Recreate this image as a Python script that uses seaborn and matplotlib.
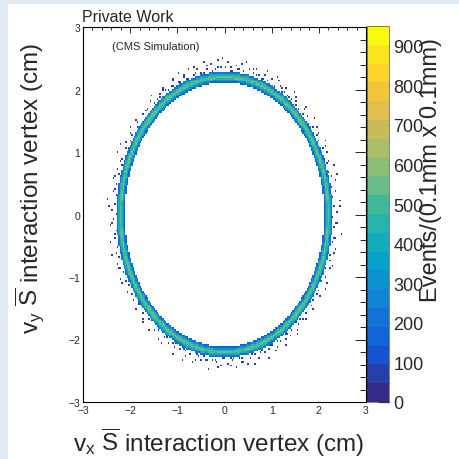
import numpy as np
import pandas as pd
import matplotlib
matplotlib.use("Agg")
import matplotlib.pyplot as plt
from matplotlib.colors import LinearSegmentedColormap, ListedColormap
from matplotlib.patches import Rectangle
from matplotlib.ticker import MultipleLocator
import seaborn as sns

# ROOT kBird palette
bird_stops = [0.0, 0.125, 0.25, 0.375, 0.5, 0.625, 0.75, 0.875, 1.0]
bird_red = [0.2082, 0.0592, 0.0780, 0.0232, 0.1802, 0.5301, 0.8186, 0.9956, 0.9764]
bird_green = [0.1664, 0.3599, 0.5041, 0.6419, 0.7178, 0.7492, 0.7328, 0.7862, 0.9832]
bird_blue = [0.5293, 0.8684, 0.8385, 0.7914, 0.6425, 0.4662, 0.3499, 0.1968, 0.0539]
n_levels = 20
z_max = 950
cbar_ticks = [0, 100, 200, 300, 400, 500, 600, 700, 800, 900]

# ring: radial profile of counts per bin (cm)
ring_edges = [2.11, 2.135, 2.16, 2.185, 2.21, 2.235, 2.26, 2.29]
ring_counts = [170, 330, 470, 560, 520, 400, 230]

# scattered vertices outside the ring (angle in deg, radius in cm)
right_ang = [-38, -36, -33, -31, -29, -27, -25, -22, -20, -18, -16, -13, -11, -9, -7, -5, -3, -1,
             1, 3, 5, 7, 9, 11, 13, 15, 17, 19, 21, 23, 25, 27, 29, 31, 33, 35, 37, 39]
right_rad = [2.34, 2.31, 2.40, 2.33, 2.46, 2.32, 2.38, 2.30, 2.43, 2.35, 2.31, 2.41, 2.33, 2.37, 2.49, 2.32, 2.36, 2.30,
             2.40, 2.34, 2.45, 2.32, 2.38, 2.31, 2.42, 2.35, 2.32, 2.47, 2.36, 2.30, 2.39, 2.33, 2.44, 2.32, 2.37, 2.41, 2.34, 2.31]
top_ang = [42, 45, 47, 50, 52, 53, 55, 57, 58, 60, 62, 63, 65, 67, 68, 70, 72, 74, 75, 77,
           79, 80, 82, 84, 86, 88, 90, 91, 93, 95, 97, 99, 100, 102, 104, 106, 108, 110, 111, 113,
           115, 117, 119, 121, 123, 125, 128, 131, 134, 137,
           44, 49, 54, 59, 64, 69, 73, 78, 83, 87, 92, 96, 101, 105, 109, 114, 118, 122, 126, 130]
top_rad = [2.35, 2.42, 2.31, 2.38, 2.33, 2.46, 2.34, 2.40, 2.31, 2.37, 2.44, 2.32, 2.39, 2.34, 2.48, 2.31, 2.36, 2.42, 2.33, 2.39,
           2.50, 2.32, 2.35, 2.41, 2.31, 2.45, 2.34, 2.52, 2.37, 2.32, 2.43, 2.35, 2.48, 2.31, 2.39, 2.34, 2.44, 2.32, 2.38, 2.46,
           2.33, 2.40, 2.35, 2.31, 2.42, 2.36, 2.33, 2.39, 2.34, 2.37,
           2.30, 2.33, 2.31, 2.35, 2.30, 2.32, 2.34, 2.30, 2.33, 2.31, 2.36, 2.30, 2.32, 2.34, 2.31, 2.30, 2.33, 2.35, 2.31, 2.32]
left_ang = [141, 143, 145, 147, 149, 151, 153, 156, 158, 160, 162, 164, 166, 168, 170, 172, 174, 176, 178, 180,
            182, 184, 186, 188, 190, 193, 195, 197, 199, 201, 203, 205, 207, 209, 211, 213, 215, 218]
left_rad = [2.37, 2.32, 2.43, 2.34, 2.31, 2.40, 2.33, 2.47, 2.35, 2.32, 2.39, 2.31, 2.44, 2.34, 2.37, 2.32, 2.50, 2.33, 2.40, 2.31,
            2.36, 2.42, 2.32, 2.34, 2.46, 2.31, 2.38, 2.33, 2.41, 2.35, 2.32, 2.44, 2.34, 2.31, 2.39, 2.33, 2.37, 2.32]
bottom_ang = [222, 224, 226, 229, 231, 233, 235, 237, 240, 242, 244, 246, 248, 250, 252, 254, 256, 258, 260, 262,
              264, 266, 268, 270, 272, 274, 276, 278, 280, 282, 284, 286, 288, 290, 292, 294, 296, 298, 300, 302,
              304, 306, 308, 310, 312, 314, 316, 318, 247, 273,
              228, 238, 243, 249, 255, 259, 265, 269, 275, 279, 285, 289, 295, 299, 305, 311]
bottom_rad = [2.34, 2.40, 2.32, 2.45, 2.36, 2.31, 2.42, 2.34, 2.38, 2.33, 2.48, 2.35, 2.31, 2.41, 2.34, 2.46, 2.32, 2.39, 2.35, 2.50,
              2.33, 2.37, 2.43, 2.31, 2.40, 2.34, 2.47, 2.32, 2.38, 2.44, 2.35, 2.31, 2.41, 2.33, 2.49, 2.36, 2.32, 2.40, 2.34, 2.45,
              2.31, 2.38, 2.33, 2.42, 2.35, 2.32, 2.39, 2.34, 2.30, 2.30,
              2.30, 2.32, 2.30, 2.33, 2.31, 2.30, 2.34, 2.31, 2.30, 2.32, 2.31, 2.33, 2.30, 2.31, 2.32, 2.30]
extra_ang = [3, 9, 15, 21, 27, 33, 39, 45, 51, 57, 63, 69, 75, 81, 87, 93, 99, 105, 111, 117,
             123, 129, 135, 141, 147, 153, 159, 165, 171, 177, 183, 189, 195, 201, 207, 213, 219, 225, 231, 237,
             243, 249, 255, 261, 267, 273, 279, 285, 291, 297, 303, 309, 315, 321, 327, 333, 339, 345, 351, 357]
extra_rad = [2.44, 2.37, 2.47, 2.33, 2.41, 2.36, 2.45, 2.39, 2.43, 2.35, 2.48, 2.38, 2.42, 2.46, 2.36, 2.49, 2.40, 2.44, 2.37, 2.43,
             2.39, 2.45, 2.34, 2.41, 2.38, 2.46, 2.35, 2.42, 2.37, 2.44, 2.40, 2.36, 2.47, 2.39, 2.43, 2.35, 2.41, 2.46, 2.38, 2.44,
             2.37, 2.48, 2.40, 2.36, 2.45, 2.42, 2.38, 2.47, 2.35, 2.43, 2.39, 2.46, 2.37, 2.41, 2.34, 2.44, 2.38, 2.42, 2.36, 2.40]
outlier_count = 60

# build the histogram entries (cell centres of a 200 x 200 grid)
n_bins = 200
centers = np.linspace(-3 + 3 / n_bins, 3 - 3 / n_bins, n_bins)
gx, gy = np.meshgrid(centers, centers)
gr = np.hypot(gx, gy)
in_ring = (gr >= ring_edges[0]) & (gr < ring_edges[-1])
ring_idx = np.digitize(gr[in_ring], ring_edges) - 1
ring_df = pd.DataFrame({"vx": gx[in_ring], "vy": gy[in_ring],
                        "w": np.array(ring_counts)[ring_idx]})

out_ang = np.radians(right_ang + top_ang + left_ang + bottom_ang + extra_ang)
out_rad = np.array(right_rad + top_rad + left_rad + bottom_rad + extra_rad)
out_df = pd.DataFrame({"vx": out_rad * np.cos(out_ang), "vy": out_rad * np.sin(out_ang),
                       "w": outlier_count})
data = pd.concat([ring_df, out_df], ignore_index=True)

bird = LinearSegmentedColormap.from_list(
    "bird", list(zip(bird_stops, zip(bird_red, bird_green, bird_blue))))
cmap = ListedColormap(bird(np.linspace(0, 1, n_levels)))

sns.set_style("white")
plt.rcParams['font.family'] = ['Liberation Sans', 'DejaVu Sans']
plt.rcParams['mathtext.fontset'] = 'custom'
plt.rcParams['mathtext.rm'] = 'Liberation Sans'
plt.rcParams['mathtext.it'] = 'Liberation Sans:italic'

W, H = 459, 460
fig = plt.figure(figsize=(W / 100, H / 100), dpi=100, facecolor='#e3eaf4')
fig.add_artist(Rectangle((8 / W, 0), 1, 1 - 5 / H, transform=fig.transFigure,
                         facecolor='white', edgecolor='none', zorder=-5))

ax = fig.add_axes([83 / W, 57 / H, 283 / W, 375 / H])
cax = fig.add_axes([367 / W, 57 / H, 22 / W, 376 / H])

sns.histplot(data=data, x="vx", y="vy", weights="w", bins=n_bins,
             binrange=((-3, 3), (-3, 3)), cmap=cmap, vmin=0, vmax=z_max,
             cbar=True, cbar_ax=cax, ax=ax)

ax.set_xlim(-3, 3)
ax.set_ylim(-3, 3)
ax.set_xlabel("")
ax.set_ylabel("")
ax.set_facecolor("white")
for s in ax.spines.values():
    s.set_color("black")
    s.set_linewidth(0.8)
for a in (ax.xaxis, ax.yaxis):
    a.set_major_locator(MultipleLocator(1))
    a.set_minor_locator(MultipleLocator(0.2))
ax.tick_params(which='both', direction='in', top=True, right=True,
               labelsize=7.5, color='black', width=0.6, pad=2)
ax.tick_params(axis='x', which='major', length=4.5)
ax.tick_params(axis='x', which='minor', length=2.2)
ax.tick_params(axis='y', which='major', length=8)
ax.tick_params(axis='y', which='minor', length=4)

ax.text(-2.39, 2.70, "(CMS Simulation)", fontsize=8, ha='left', va='center')

cax.set_yticks(cbar_ticks)
cax.minorticks_off()
cax.tick_params(axis='y', direction='in', length=8, width=0.9, color='#444444',
                labelsize=13, pad=3, right=True, left=False)
for s in cax.spines.values():
    s.set_linewidth(0.4)

fig.text(82 / W, 1 - 22 / H, "Private Work", fontsize=11.5, ha='left', va='baseline')
fig.text(219 / W, 1 - 443 / H,
         r"$\mathregular{v_{x}}$ $\mathregular{\overline{S}}$ interaction vertex (cm)",
         fontsize=17.5, ha='center', va='center')
fig.text(30 / W, 1 - 188 / H,
         r"$\mathregular{v_{y}}$ $\mathregular{\overline{S}}$ interaction vertex (cm)",
         fontsize=17.5, ha='center', va='center', rotation=90)
fig.text(431 / W, 1 - 170 / H, "Events/(0.1mm x 0.1mm)",
         fontsize=17, ha='center', va='center', rotation=90)

fig.savefig("out.png", dpi=100, facecolor=fig.get_facecolor())
